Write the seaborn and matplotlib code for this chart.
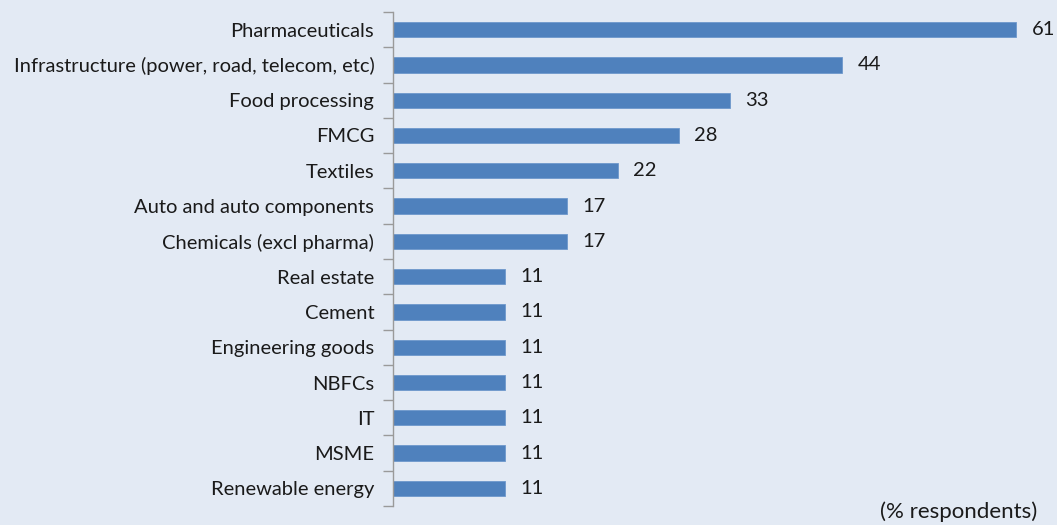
import numpy as np
import matplotlib
matplotlib.use("Agg")
import matplotlib.pyplot as plt
import seaborn as sns
import pandas as pd

sectors = [
    "Pharmaceuticals",
    "Infrastructure (power, road, telecom, etc)",
    "Food processing",
    "FMCG",
    "Textiles",
    "Auto and auto components",
    "Chemicals (excl pharma)",
    "Real estate",
    "Cement",
    "Engineering goods",
    "NBFCs",
    "IT",
    "MSME",
    "Renewable energy",
]
shares = [61, 44, 33, 28, 22, 17, 17, 11, 11, 11, 11, 11, 11, 11]

bg = "#E3EAF4"
bar_color = "#4F81BD"

sns.set_theme(style="white")
plt.rcParams["font.family"] = ["Lato", "DejaVu Sans"]

df = pd.DataFrame({"sector": sectors, "share": shares})

fig = plt.figure(figsize=(10.57, 5.25), dpi=100, facecolor=bg)
ax = fig.add_axes([393 / 1057, 1 - 506 / 525, 1 - 393 / 1057, (506 - 12) / 525])
ax.set_facecolor(bg)

sns.barplot(data=df, x="share", y="sector", order=sectors, color=bar_color,
            width=0.43, saturation=1, ax=ax, edgecolor="#6E98CC", linewidth=0.6)

ax.set_xlim(0, 65)
ax.set_ylim(len(sectors) - 0.5, -0.5)
ax.set_xlabel("")
ax.set_ylabel("")
ax.set_xticks([])

for s in ["top", "right", "bottom"]:
    ax.spines[s].set_visible(False)
ax.spines["left"].set_color("#9A9A9A")
ax.spines["left"].set_linewidth(1.0)

ax.set_yticks(range(len(sectors)))
ax.set_yticklabels(sectors, fontsize=14.5, color="#1A1A1A")
ax.tick_params(axis="y", which="major", length=0, pad=13.5)
ax.set_yticks(np.arange(-0.5, len(sectors), 1), minor=True)
ax.tick_params(axis="y", which="minor", length=7, width=1.0, color="#9A9A9A", left=True)

for i, v in enumerate(shares):
    ax.text(v + 1.5, i, str(v), va="center", ha="left", fontsize=14.5, color="#1A1A1A")

fig.text(1037 / 1057, 1 - 512 / 525, "(% respondents)", ha="right", va="center",
         fontsize=16, color="#1A1A1A")

fig.savefig("out.png", dpi=100, facecolor=bg)
